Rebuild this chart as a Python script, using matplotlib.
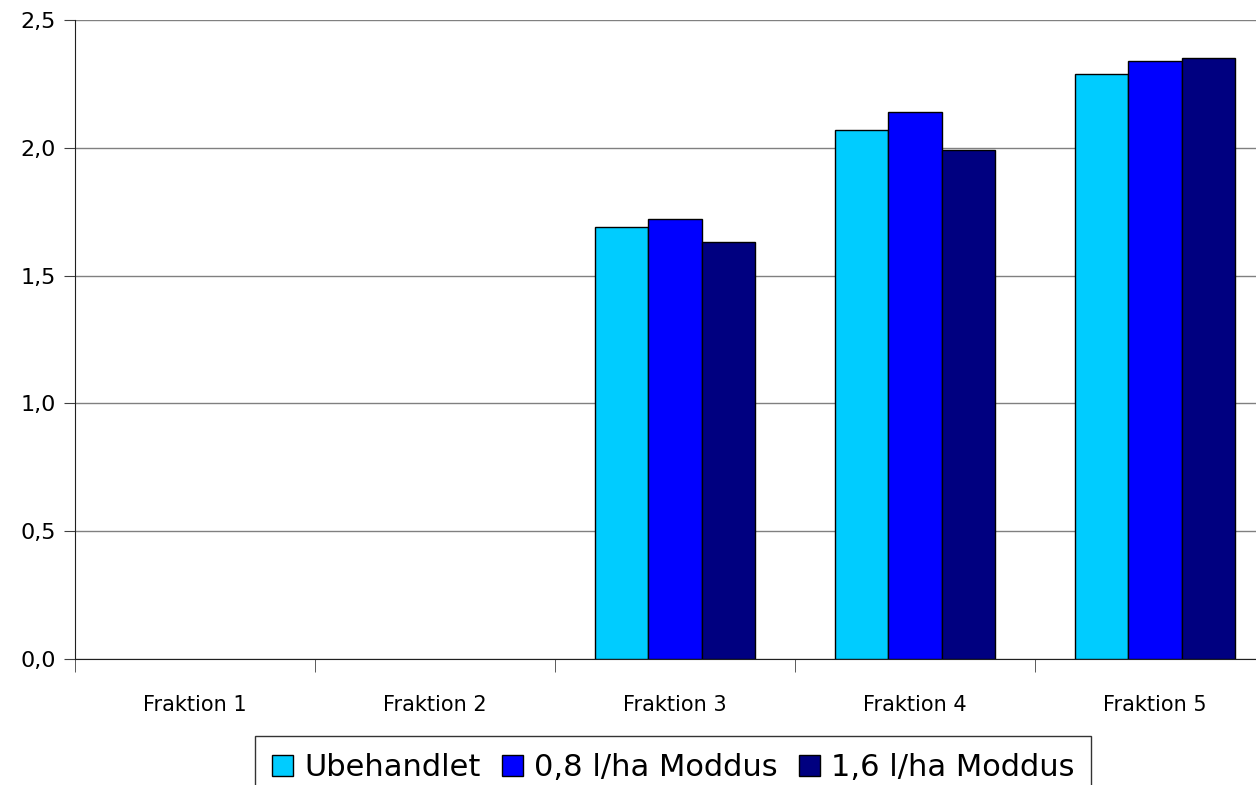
import numpy as np
import matplotlib
matplotlib.use("Agg")
import matplotlib.pyplot as plt
from matplotlib.ticker import FuncFormatter

plt.rcParams['font.family'] = ['DejaVu Sans']

categories = ["Fraktion 1", "Fraktion 2", "Fraktion 3", "Fraktion 4", "Fraktion 5"]
series_names = ["Ubehandlet", "0,8 l/ha Moddus", "1,6 l/ha Moddus"]
ubehandlet = [0, 0, 1.69, 2.07, 2.29]
moddus_08 = [0, 0, 1.72, 2.14, 2.34]
moddus_16 = [0, 0, 1.63, 1.99, 2.35]
colors = ["#00CCFF", "#0000FF", "#000080"]

fig = plt.figure(figsize=(12.56, 7.85), dpi=100)
ax = fig.add_axes([75 / 1256, 126 / 785, 1200 / 1256, 639 / 785])

x = np.arange(len(categories))
width = 0.222
for i, (vals, name, col) in enumerate(zip([ubehandlet, moddus_08, moddus_16], series_names, colors)):
    # empty fractions get no outline so nothing shows on the baseline
    lw = [1.0 if v > 0 else 0 for v in vals]
    ax.bar(x + (i - 1) * width, vals, width, color=col, edgecolor="black",
           linewidth=lw, label=name, zorder=3)

ax.set_xlim(-0.5, len(categories) - 0.5)
ax.set_ylim(0, 2.5)
ax.set_yticks(np.arange(0, 2.51, 0.5))
ax.yaxis.set_major_formatter(FuncFormatter(lambda v, p: f"{v:.1f}".replace(".", ",")))
ax.grid(axis="y", color="#808080", linewidth=1.0, zorder=0)

ax.set_xticks(x)
ax.set_xticklabels(categories)
ax.set_xticks(np.arange(-0.5, len(categories) - 0.4, 1.0), minor=True)
ax.tick_params(axis="x", which="major", length=0, pad=26, labelsize=15)
ax.tick_params(axis="x", which="minor", length=9, color="#404040")
ax.tick_params(axis="y", length=8, labelsize=16, pad=6, color="#404040")

for side in ["top", "right"]:
    ax.spines[side].set_visible(False)
ax.spines["left"].set_color("#202020")
ax.spines["bottom"].set_color("#202020")

leg_handles = [plt.Rectangle((0, 0), 1, 1, facecolor=c, edgecolor="black", linewidth=1.0)
               for c in colors]
leg = fig.legend(leg_handles, series_names, loc="upper center", bbox_to_anchor=(0.536, 0.062),
                 ncol=3, frameon=True, fontsize=22, handlelength=0.7, handleheight=0.7,
                 handletextpad=0.35, columnspacing=0.7, borderpad=0.55, fancybox=False,
                 borderaxespad=0)
leg.get_frame().set_edgecolor("black")
leg.get_frame().set_linewidth(1.0)

fig.savefig("out.png", dpi=100)
